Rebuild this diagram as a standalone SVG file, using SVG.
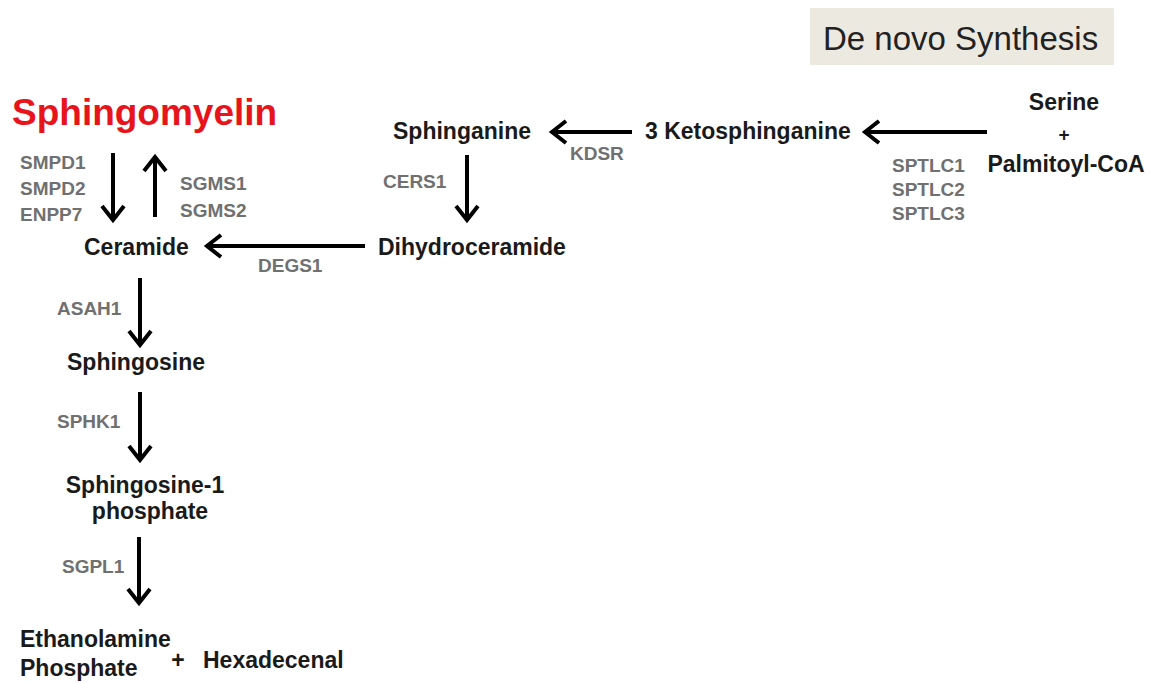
<svg xmlns="http://www.w3.org/2000/svg" width="1155" height="683" viewBox="0 0 1155 683">
<style>
.m{font-family:"Liberation Sans",Arial,sans-serif;font-weight:bold;font-size:23px;fill:#1a1a1a}
.e{font-family:"Liberation Sans",Arial,sans-serif;font-weight:bold;font-size:19px;fill:#707070}
.c{text-anchor:middle}
.a{stroke:#000;stroke-width:4;fill:none;marker-end:url(#h)}
</style>
<defs>
<marker id="h" markerUnits="userSpaceOnUse" markerWidth="40" markerHeight="40" refX="0" refY="0" viewBox="-20 -20 40 40" orient="auto" overflow="visible">
<path d="M-14,-11 L0,0 L-14,11" fill="none" stroke="#000" stroke-width="4" stroke-linejoin="miter"/>
</marker>
</defs>
<rect width="1155" height="683" fill="#fff"/>
<g id="title">
<rect x="810" y="8" width="304" height="57" fill="#ece9e1"/>
<text x="823" y="50" style="font-family:'Liberation Sans',Arial,sans-serif;font-size:33px;fill:#222">De novo Synthesis</text>
</g>
<g id="connectors">
<path class="a" d="M987,132 H865"/>
<path class="a" d="M632,132 H552"/>
<path class="a" d="M467,155 V220"/>
<path class="a" d="M365,246 H207"/>
<path class="a" d="M113,153 V220"/>
<path class="a" d="M155,217 V157"/>
<path class="a" d="M140,278 V345"/>
<path class="a" d="M140,392 V460"/>
<path class="a" d="M139,537 V603"/>
</g>
<g id="serine">
<text class="m c" x="1064" y="110">Serine</text>
<text class="m c" x="1064" y="141" style="font-size:19px">+</text>
<text class="m c" x="1066" y="172">Palmitoyl-CoA</text>
</g>
<g id="sptlc">
<text class="e" x="892" y="172">SPTLC1</text>
<text class="e" x="892" y="196">SPTLC2</text>
<text class="e" x="892" y="220">SPTLC3</text>
</g>
<g id="ketosphinganine"><text class="m" x="645" y="139">3 Ketosphinganine</text></g>
<g id="kdsr"><text class="e" x="570" y="160">KDSR</text></g>
<g id="sphinganine"><text class="m" x="393" y="139">Sphinganine</text></g>
<g id="cers1"><text class="e" x="383" y="188">CERS1</text></g>
<g id="dihydroceramide"><text class="m" x="378" y="255">Dihydroceramide</text></g>
<g id="degs1"><text class="e" x="258" y="272">DEGS1</text></g>
<g id="sphingomyelin"><text x="12" y="125" style="font-family:'Liberation Sans',Arial,sans-serif;font-weight:bold;font-size:37px;fill:#e8141c">Sphingomyelin</text></g>
<g id="smpd">
<text class="e" x="20" y="169">SMPD1</text>
<text class="e" x="20" y="195">SMPD2</text>
<text class="e" x="20" y="221">ENPP7</text>
</g>
<g id="sgms">
<text class="e" x="180" y="190">SGMS1</text>
<text class="e" x="180" y="217">SGMS2</text>
</g>
<g id="ceramide"><text class="m" x="84" y="255">Ceramide</text></g>
<g id="asah1"><text class="e" x="57" y="315">ASAH1</text></g>
<g id="sphingosine"><text class="m" x="67" y="370">Sphingosine</text></g>
<g id="sphk1"><text class="e" x="57" y="428">SPHK1</text></g>
<g id="s1p">
<text class="m c" x="145" y="493">Sphingosine-1</text>
<text class="m c" x="150" y="519">phosphate</text>
</g>
<g id="sgpl1"><text class="e" x="62" y="573">SGPL1</text></g>
<g id="ethanolamine">
<text class="m" x="20" y="647">Ethanolamine</text>
<text class="m" x="20" y="676">Phosphate</text>
</g>
<g id="plus"><text class="m c" x="178" y="668">+</text></g>
<g id="hexadecenal"><text class="m" x="203" y="668">Hexadecenal</text></g>
</svg>
